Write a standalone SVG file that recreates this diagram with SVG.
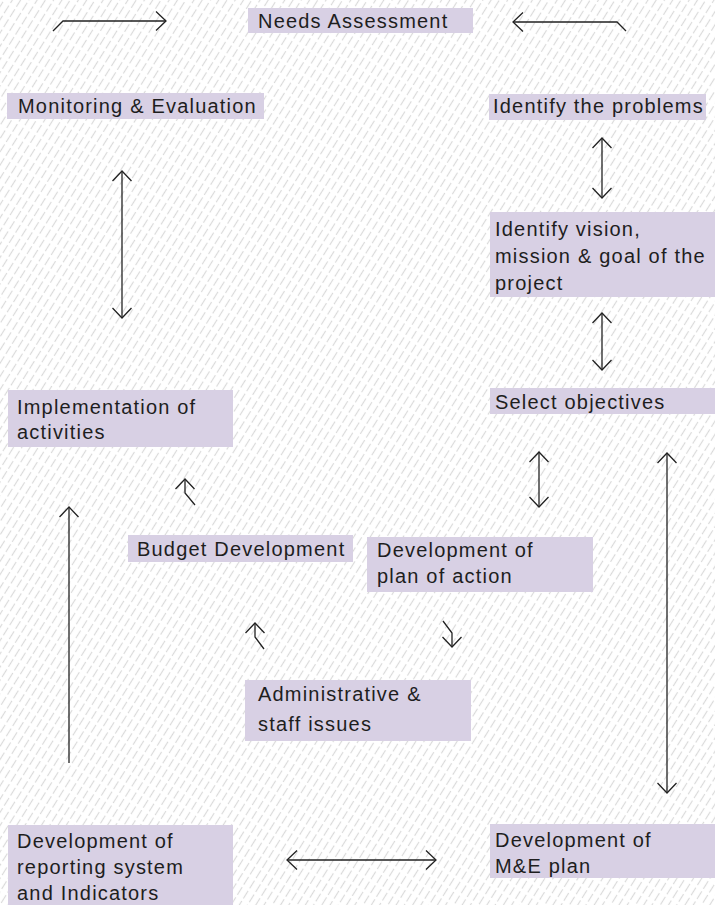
<svg xmlns="http://www.w3.org/2000/svg" width="715" height="905" viewBox="0 0 715 905">
  <defs>
    <!-- faint diagonal dash texture behind the whole sheet -->
    <pattern id="hatch" width="7" height="12" patternUnits="userSpaceOnUse" patternTransform="rotate(32)">
      <line x1="3.5" y1="0" x2="3.5" y2="9" stroke="#dadada" stroke-width="1.2"/>
    </pattern>
    <!-- open chevron arrowhead -->
    <marker id="tip" viewBox="-11 -10 12 20" refX="0" refY="0" markerWidth="12" markerHeight="20"
            markerUnits="userSpaceOnUse" orient="auto-start-reverse" overflow="visible">
      <path d="M-10,-9.5 L0,0 L-10,9.5" fill="none" stroke="#222" stroke-width="1.3"/>
    </marker>
    <style>
      .box { fill: #d8d0e4; }
      .lbl { font-family: "Liberation Sans", Arial, sans-serif; font-size: 20px; letter-spacing: 1.2px; fill: #1e1e1e; }
      .link { fill: none; stroke: #222; stroke-width: 1.3; }
      .one { marker-end: url(#tip); }
      .two { marker-start: url(#tip); marker-end: url(#tip); }
    </style>
  </defs>

  <rect width="715" height="905" fill="#ffffff"/>
  <rect width="715" height="905" fill="url(#hatch)"/>

  <g id="connectors">
    <polyline class="link one" points="53,31 63,21 166,21"/>
    <polyline class="link one" points="626,31 617,22 513,22"/>
    <line class="link two" x1="122" y1="171" x2="122" y2="318"/>
    <line class="link two" x1="602" y1="138" x2="602" y2="198"/>
    <line class="link two" x1="602" y1="313" x2="602" y2="370"/>
    <line class="link two" x1="539" y1="452" x2="539" y2="507"/>
    <line class="link two" x1="667" y1="453" x2="667" y2="793"/>
    <polyline class="link one" points="443,621 452,633 452,647"/>
    <polyline class="link one" points="264,649 255,637 255,623"/>
    <polyline class="link one" points="195,505 185,493 185,479"/>
    <line class="link one" x1="69" y1="763" x2="69" y2="507"/>
    <line class="link two" x1="287" y1="860" x2="436" y2="860"/>
  </g>

  <g id="needs-assessment">
    <rect class="box" x="248" y="8" width="225" height="25"/>
    <text class="lbl" x="258" y="28">Needs Assessment</text>
  </g>

  <g id="monitoring-evaluation">
    <rect class="box" x="7" y="93" width="257" height="26"/>
    <text class="lbl" x="18" y="113">Monitoring &amp; Evaluation</text>
  </g>

  <g id="identify-problems">
    <rect class="box" x="489" y="94" width="217" height="26"/>
    <text class="lbl" x="493" y="113">Identify the problems</text>
  </g>

  <g id="vision-mission-goal">
    <rect class="box" x="490" y="212" width="225" height="85"/>
    <text class="lbl" x="495" y="236">Identify vision,</text>
    <text class="lbl" x="495" y="263">mission &amp; goal of the</text>
    <text class="lbl" x="495" y="290">project</text>
  </g>

  <g id="select-objectives">
    <rect class="box" x="490" y="388" width="225" height="26"/>
    <text class="lbl" x="495" y="409">Select objectives</text>
  </g>

  <g id="implementation">
    <rect class="box" x="8" y="390" width="225" height="57"/>
    <text class="lbl" x="17" y="414">Implementation of</text>
    <text class="lbl" x="17" y="439">activities</text>
  </g>

  <g id="budget-development">
    <rect class="box" x="128" y="535" width="225" height="27"/>
    <text class="lbl" x="137" y="556">Budget Development</text>
  </g>

  <g id="plan-of-action">
    <rect class="box" x="367" y="537" width="226" height="55"/>
    <text class="lbl" x="377" y="557">Development of</text>
    <text class="lbl" x="377" y="583">plan of action</text>
  </g>

  <g id="administrative-staff">
    <rect class="box" x="245" y="680" width="226" height="61"/>
    <text class="lbl" x="258" y="701">Administrative &amp;</text>
    <text class="lbl" x="258" y="731">staff issues</text>
  </g>

  <g id="reporting-system">
    <rect class="box" x="8" y="825" width="225" height="80"/>
    <text class="lbl" x="17" y="848">Development of</text>
    <text class="lbl" x="17" y="874">reporting system</text>
    <text class="lbl" x="17" y="900">and Indicators</text>
  </g>

  <g id="me-plan">
    <rect class="box" x="490" y="824" width="225" height="54"/>
    <text class="lbl" x="495" y="847">Development of</text>
    <text class="lbl" x="495" y="873">M&amp;E plan</text>
  </g>
</svg>
